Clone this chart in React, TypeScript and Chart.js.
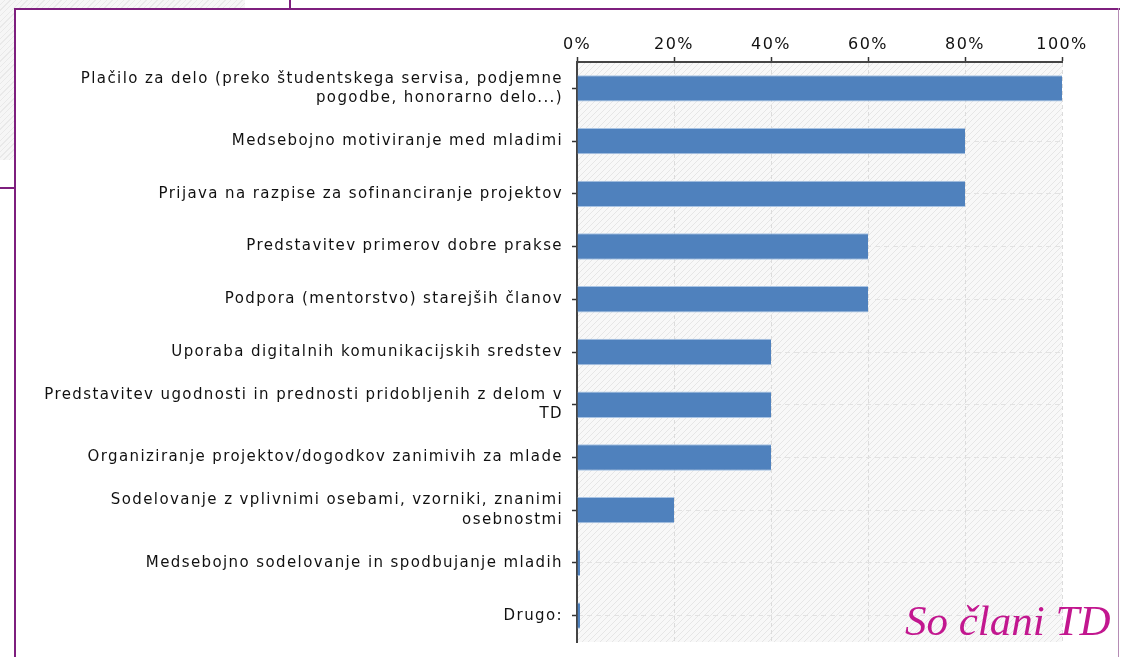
import React, { useEffect, useRef } from "react";
import { Chart, registerables } from "chart.js";

Chart.register(...registerables);

const categories: (string | string[])[] = [
  ["Plačilo za delo (preko študentskega servisa, podjemne", "pogodbe, honorarno delo...)"],
  "Medsebojno motiviranje med mladimi",
  "Prijava na razpise za sofinanciranje projektov",
  "Predstavitev primerov dobre prakse",
  "Podpora (mentorstvo) starejših članov",
  "Uporaba digitalnih komunikacijskih sredstev",
  ["Predstavitev ugodnosti in prednosti pridobljenih z delom v", "TD"],
  "Organiziranje projektov/dogodkov zanimivih za mlade",
  ["Sodelovanje z vplivnimi osebami, vzorniki, znanimi", "osebnostmi"],
  "Medsebojno sodelovanje in spodbujanje mladih",
  "Drugo:",
];

const values: number[] = [100, 80, 80, 60, 60, 40, 40, 40, 20, 0, 0];

const xMin = 0;
const xMax = 100;
const xStep = 20;

const noteText = "So člani TD";

export default function App() {
  const ref = useRef<HTMLCanvasElement>(null);

  useEffect(() => {
    const canvas = ref.current!;
    const ctx0 = canvas.getContext("2d")!;
    const pc = document.createElement("canvas");
    pc.width = 6;
    pc.height = 6;
    const p = pc.getContext("2d")!;
    p.fillStyle = "#f8f8f8";
    p.fillRect(0, 0, 6, 6);
    p.strokeStyle = "#e6e6e6";
    p.lineWidth = 1;
    p.beginPath();
    p.moveTo(0, 6);
    p.lineTo(6, 0);
    p.moveTo(-1, 1);
    p.lineTo(1, -1);
    p.moveTo(5, 7);
    p.lineTo(7, 5);
    p.stroke();
    const pattern = ctx0.createPattern(pc, "repeat");

    const bgPlugin = {
      id: "bgHatch",
      beforeDraw(chart: any) {
        const { ctx, chartArea: a } = chart;
        ctx.save();
        ctx.fillStyle = pattern;
        ctx.fillRect(a.left, a.top, a.right - a.left, a.bottom - a.top);
        ctx.restore();
        (ctx as any).letterSpacing = "1.4px";
      },
      afterDraw(chart: any) {
        (chart.ctx as any).letterSpacing = "0px";
      },
    };

    const chart = new Chart(canvas, {
      type: "bar",
      data: {
        labels: categories,
        datasets: [
          {
            data: values,
            backgroundColor: "#4f81bd",
            borderColor: "#a9c4e4",
            borderWidth: { top: 1, bottom: 1, left: 0, right: 0 },
            borderSkipped: false,
            barPercentage: 0.5,
            categoryPercentage: 1,
            minBarLength: 3,
          },
        ],
      },
      options: {
        indexAxis: "y",
        animation: false,
        responsive: false,
        layout: { padding: { left: 0, top: 0, right: 59, bottom: 15 } },
        plugins: {
          legend: { display: false },
          tooltip: { enabled: false },
        },
        scales: {
          x: {
            position: "top",
            min: xMin,
            max: xMax,
            ticks: {
              stepSize: xStep,
              callback: (v: any) => v + "%",
              color: "#111",
              font: { family: "DejaVu Sans", size: 16 },
              padding: 3,
              maxRotation: 0,
            },
            grid: {
              color: "#dcdcdc",
              lineWidth: 1,
              tickColor: "#333",
              tickLength: 5,
              tickWidth: 1.5,
            },
            border: { display: true, color: "#444", width: 2, dash: [4, 3] },
            afterFit(scale: any) {
              scale.height = 62;
              scale.paddingLeft = 0;
              scale.paddingRight = 0;
            },
          },
          y: {
            ticks: {
              color: "#111",
              font: { family: "DejaVu Sans", size: 15, lineHeight: 1.3 },
              padding: 9,
              autoSkip: false,
            },
            grid: {
              offset: false,
              color: "#e2e2e2",
              lineWidth: 1,
              tickColor: "#333",
              tickLength: 5,
              tickWidth: 1.5,
            },
            border: { display: true, color: "#444", width: 2, dash: [5, 4] },
            afterFit(scale: any) {
              scale.width = 577;
              scale.paddingTop = 0;
              scale.paddingBottom = 0;
            },
          },
        },
      },
      plugins: [bgPlugin],
    });

    return () => chart.destroy();
  }, []);

  const purple = "#7e1f7e";
  return (
    <div style={{ position: "fixed", left: 0, top: 0, width: 1121, height: 657, background: "#fff", overflow: "hidden" }}>
      <div
        style={{
          position: "absolute",
          left: 0,
          top: 0,
          width: 245,
          height: 8,
          background: "repeating-linear-gradient(135deg, #f6f6f6 0px, #f6f6f6 3px, #e9e9e9 3px, #e9e9e9 4px)",
        }}
      />
      <div
        style={{
          position: "absolute",
          left: 0,
          top: 0,
          width: 14,
          height: 160,
          background: "repeating-linear-gradient(135deg, #f6f6f6 0px, #f6f6f6 3px, #e9e9e9 3px, #e9e9e9 4px)",
        }}
      />
      <canvas ref={ref} width={1121} height={657} style={{ position: "absolute", left: 0, top: 0, display: "block" }} />
      <div style={{ position: "absolute", left: 14, top: 8, width: 1106, height: 2, background: purple }} />
      <div style={{ position: "absolute", left: 14, top: 8, width: 2, height: 649, background: purple }} />
      <div style={{ position: "absolute", left: 1118, top: 8, width: 1, height: 649, background: "#b58cb5" }} />
      <div style={{ position: "absolute", left: 289, top: 0, width: 2, height: 9, background: purple }} />
      <div style={{ position: "absolute", left: 0, top: 187, width: 15, height: 2, background: purple }} />
      <div
        style={{
          position: "absolute",
          left: 905,
          top: 596,
          fontFamily: "'Liberation Serif', 'Times New Roman', serif",
          fontStyle: "italic",
          fontSize: 43,
          lineHeight: "50px",
          color: "#c2178f",
          whiteSpace: "nowrap",
        }}
      >
        {noteText}
      </div>
    </div>
  );
}
